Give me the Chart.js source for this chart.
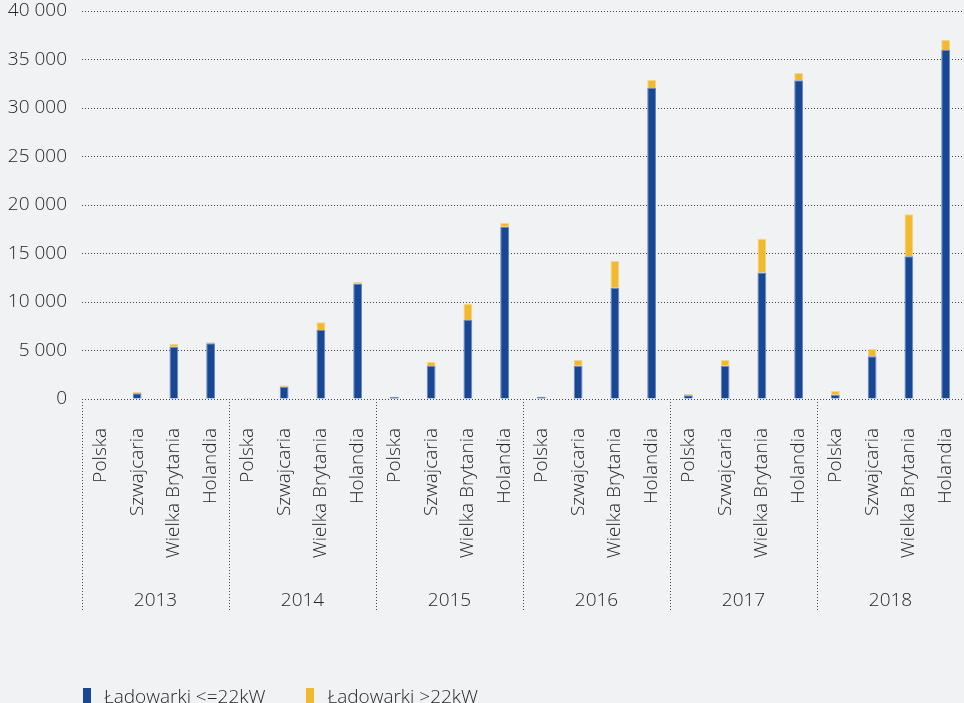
<!DOCTYPE html>
<html lang="pl">
<head>
<meta charset="utf-8">
<title>Ładowarki</title>
<script src="https://cdn.jsdelivr.net/npm/chart.js@4.4.1/dist/chart.umd.min.js"></script>
<style>
  html, body { margin: 0; padding: 0; background: #f1f2f4; }
  #wrap { position: relative; width: 964px; height: 703px; }
  #legend { position: absolute; left: 83px; top: 683px; display: flex; font: 300 19px "Open Sans", sans-serif; color: #262626; }
  #legend .item { display: flex; align-items: center; margin-right: 41px; }
  #legend .box { width: 8px; height: 16px; margin-right: 13px; }
</style>
</head>
<body>
<div id="wrap">
  <canvas id="chargersChart" width="964" height="703"></canvas>
  <div id="legend"></div>
</div>
<script>
// Years and countries shown on the grouped x axis
const years = ["2013", "2014", "2015", "2016", "2017", "2018"];
const countries = ["Polska", "Szwajcaria", "Wielka Brytania", "Holandia"];

// Number of chargers per year, in the country order above
const slowChargers = [
  30, 590, 5390, 5740,
  80, 1270, 7110, 11900,
  200, 3400, 8140, 17760,
  230, 3430, 11470, 32060,
  380, 3430, 13030, 32850,
  450, 4400, 14710, 35980,
];
const fastChargers = [
  5, 120, 280, 100,
  60, 140, 790, 150,
  30, 410, 1680, 380,
  20, 590, 2760, 830,
  170, 590, 3500, 760,
  375, 750, 4330, 1060,
];

const seriesNames = ["Ładowarki <=22kW", "Ładowarki >22kW"];
const seriesColors = ["#174795", "#f0b92e"];
const seriesEdges = ["#6c86b6", "#f4d58c"];

const FONT = "'Open Sans', sans-serif";
const TEXT = "#262626";
const tickFont = { family: FONT, size: 19, weight: 300 };

// One x category per (year, country) pair
const labels = [];
years.forEach(() => countries.forEach((c) => labels.push(c)));

function formatThousands(v) {
  return String(v).replace(/\B(?=(\d{3})+(?!\d))/g, " ");
}

// Year captions and dotted separators below the axis
const yearGroups = {
  id: "yearGroups",
  afterDraw(chart) {
    const x = chart.scales.x;
    const ctx = chart.ctx;
    const per = countries.length;
    const step = x.width / labels.length;
    const top = chart.chartArea.bottom;
    ctx.save();
    ctx.strokeStyle = "#444";
    ctx.lineWidth = 1;
    ctx.setLineDash([1, 2]);
    ctx.font = "300 19px " + FONT;
    ctx.fillStyle = TEXT;
    ctx.textAlign = "center";
    ctx.textBaseline = "middle";
    years.forEach((year, g) => {
      const left = x.getPixelForValue(g * per) - step / 2;
      const right = x.getPixelForValue(g * per + per - 1) + step / 2;
      const sx = Math.round(left) + 0.5;
      ctx.beginPath();
      ctx.moveTo(sx, top);
      ctx.lineTo(sx, top + 213);
      ctx.stroke();
      ctx.fillText(year, (left + right) / 2, top + 202);
    });
    ctx.restore();
  },
};

const ctx = document.getElementById("chargersChart").getContext("2d");
const chargersChart = new Chart(ctx, {
  type: "bar",
  data: {
    labels: labels,
    datasets: seriesNames.map((name, i) => ({
      label: name,
      data: i === 0 ? slowChargers : fastChargers,
      backgroundColor: seriesColors[i],
      borderColor: seriesEdges[i],
      borderWidth: 1,
      barPercentage: 0.24,
      categoryPercentage: 1,
    })),
  },
  options: {
    responsive: false,
    animation: false,
    devicePixelRatio: 1,
    layout: { padding: { top: 11, right: 0, bottom: 0, left: 0 } },
    plugins: {
      legend: { display: false },
      tooltip: { enabled: false },
    },
    scales: {
      x: {
        stacked: true,
        grid: { display: false },
        border: { display: false },
        ticks: {
          autoSkip: false,
          maxRotation: 90,
          minRotation: 90,
          padding: 21,
          color: TEXT,
          font: tickFont,
        },
        afterFit(scale) {
          scale.height = 304;
          scale.paddingLeft = 0;
          scale.paddingRight = 0;
        },
      },
      y: {
        stacked: true,
        min: 0,
        max: 40000,
        grid: { color: "#444", lineWidth: 1, drawTicks: false },
        border: { display: false, dash: [1, 2] },
        ticks: {
          stepSize: 5000,
          padding: 15,
          color: TEXT,
          font: tickFont,
          callback: (v) => formatThousands(v),
        },
        afterFit(scale) {
          scale.width = 82;
          scale.paddingTop = 0;
          scale.paddingBottom = 0;
        },
      },
    },
  },
  plugins: [yearGroups],
});

// Legend below the chart
const legendEl = document.getElementById("legend");
seriesNames.forEach((name, i) => {
  const item = document.createElement("div");
  item.className = "item";
  const box = document.createElement("span");
  box.className = "box";
  box.style.background = seriesColors[i];
  const txt = document.createElement("span");
  txt.textContent = name;
  item.appendChild(box);
  item.appendChild(txt);
  legendEl.appendChild(item);
});
</script>
</body>
</html>
